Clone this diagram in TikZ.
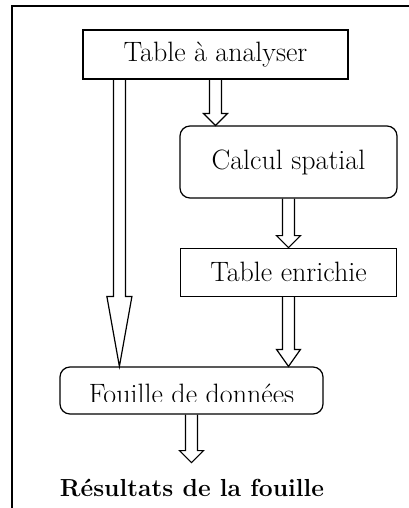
\documentclass[tikz,border=0pt]{standalone}
\usepackage{tikz}
\usetikzlibrary{positioning, calc}
\tikzset{>=latex}

% hollow block arrow: from, to, half head width, head length
\newcommand{\blockarrow}[4]{%
  \draw[flow] let \p1=(#1), \p2=(#2) in
    (\x1-4.5pt,\y1) -- (\x1-4.5pt,\y2+#4) -- (\x1-#3,\y2+#4) -- (\x2,\y2)
    -- (\x1+#3,\y2+#4) -- (\x1+4.5pt,\y2+#4) -- (\x1+4.5pt,\y1);
}

\begin{document}
\begin{tikzpicture}[
            x=0.75pt, y=-0.75pt,
            font=\fontsize{21}{25}\selectfont,
            box/.style={rectangle, draw, line width=0.9pt, inner sep=0pt},
            roundbox/.style={box, rounded corners=7.5pt},
            flow/.style={line width=0.9pt, line join=miter},
            frame/.style={line width=1.3pt}
        ]
        \useasboundingbox (0,0) rectangle (409,508);
        \draw[frame] (409,6) -- (12,6) -- (12,508);
        \node[box, minimum width=198.75pt, minimum height=36.75pt] (table) at (215.5,54.5) {Table à analyser};
        \node[roundbox, minimum width=162.75pt, minimum height=54pt] (calcul) at (288.5,162) {Calcul spatial};
        \node[box, minimum width=162pt, minimum height=36pt, below = 36.75pt of calcul] (enrichie) {Table enrichie};
        \node[roundbox, minimum width=197.25pt, minimum height=35.25pt] (fouille) at (191.5,390.5) {};
        \begin{scope}
            \clip (fouille.north west) rectangle ([yshift=9.75pt]fouille.south east);
            \node[anchor=base, inner sep=0pt] (fouilletext) at ([yshift=-27.75pt]fouille.north) {Fouille de données};
        \end{scope}
        \node[anchor=base, font=\fontsize{18.5}{22}\selectfont\bfseries] (resultats) at (192,496) {Résultats de la fouille};
        \coordinate (leftstart) at ([xshift=27.75pt]table.south west);
        \coordinate (resultstip) at ($(fouille.south)+(0,48)$);
        \blockarrow{table.south}{table.south |- calcul.north}{9pt}{9pt}
        \blockarrow{calcul.south}{enrichie.north}{9pt}{9pt}
        \blockarrow{enrichie.south}{enrichie.south |- fouille.north}{9pt}{12.75pt}
        \blockarrow{leftstart}{leftstart |- fouille.north}{9.4pt}{52.5pt}
        \blockarrow{fouille.south}{resultstip}{9pt}{9pt}
\end{tikzpicture}
\end{document}
